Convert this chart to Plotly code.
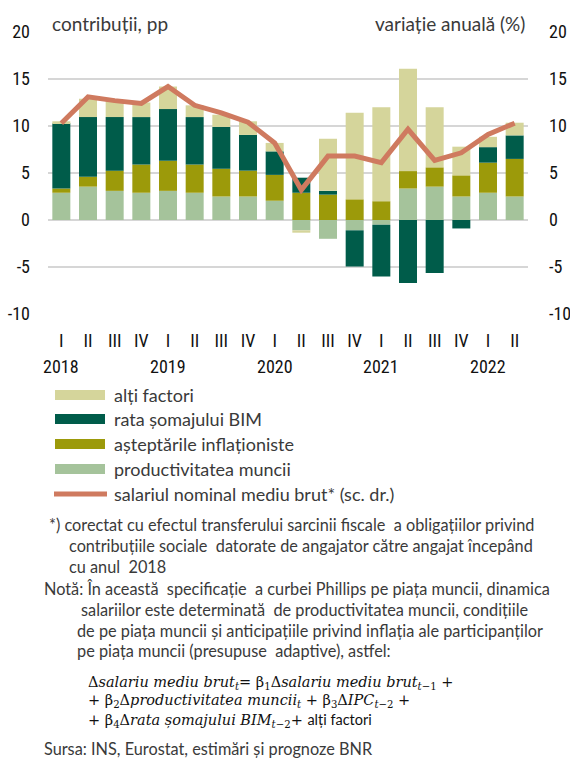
import plotly.graph_objects as go

# ---------------- data ----------------
quarters = ["I", "II", "III", "IV", "I", "II", "III", "IV", "I", "II", "III", "IV",
            "I", "II", "III", "IV", "I", "II"]
years = ["2018", "2019", "2020", "2021", "2022"]
year_first_idx = [0, 4, 8, 12, 16]

productivitatea = [2.9, 3.55, 3.1, 2.9, 3.1, 2.9, 2.5, 2.5, 2.05, -1.1, -2.0, -1.1,
                   -0.5, 3.35, 3.55, 2.5, 2.9, 2.5]
asteptarile = [0.45, 1.05, 2.15, 3.0, 3.2, 3.0, 2.95, 2.75, 2.75, 2.9, 2.7, 2.2,
               2.0, 1.85, 2.05, 2.25, 3.2, 4.0]
somaj = [6.95, 6.35, 5.7, 5.05, 5.5, 5.05, 4.45, 3.8, 2.5, 1.6, 0.4, -3.85,
         -5.5, -6.7, -5.65, -0.9, 1.65, 2.5]
alti = [0.2, 1.95, 1.7, 1.55, 2.4, 1.25, 1.3, 1.45, 0.9, -0.25, 5.55, 9.2,
        10.0, 10.9, 6.4, 3.05, 1.1, 1.35]
salariul = [10.3, 13.1, 12.7, 12.4, 14.2, 12.2, 11.4, 10.4, 8.2, 3.2, 6.8, 6.8,
            6.1, 9.65, 6.35, 7.15, 9.1, 10.3]

names = ["alți factori", "rata șomajului BIM", "așteptările inflaționiste",
         "productivitatea muncii", "salariul nominal mediu brut* (sc. dr.)"]
col_alti = "#d5d59b"
col_somaj = "#005c4a"
col_infl = "#9c9a0a"
col_prod = "#a5c39b"
col_line = "#cf7a5f"

x = list(range(len(quarters)))

# ---------------- geometry (pixels) ----------------
W, H = 570, 760
PL, PR, PT, PB = 48, 528, 32, 314


def px(v):
    return (v - PL) / (PR - PL)


def py(v):
    return (PB - v) / (PB - PT)


SANS = "Lato, 'Open Sans', sans-serif"
NARROW = "'Roboto Condensed', 'Liberation Sans Narrow', Lato, sans-serif"
SERIF = "'DejaVu Serif', 'Liberation Serif', serif"
TXT = "#3a3a3a"
TICK = "#111111"

fig = go.Figure()
for vals, name, col in [(productivitatea, names[3], col_prod),
                        (asteptarile, names[2], col_infl),
                        (somaj, names[1], col_somaj),
                        (alti, names[0], col_alti)]:
    fig.add_trace(go.Bar(x=x, y=vals, name=name, marker=dict(color=col, line=dict(width=0)),
                         showlegend=False))

fig.add_trace(go.Scatter(x=x, y=salariul, name=names[4], yaxis="y2", mode="lines",
                         line=dict(color=col_line, width=5), showlegend=False))

yt = [-10, -5, 0, 5, 10, 15, 20]
fig.update_layout(
    width=W, height=H,
    margin=dict(l=PL, r=W - PR, t=PT, b=H - PB, pad=0, autoexpand=False),
    paper_bgcolor="white", plot_bgcolor="white",
    barmode="relative", bargap=0.325,
    font=dict(family=SANS, color=TXT),
    xaxis=dict(range=[-0.5, len(x) - 0.5], tickmode="array", tickvals=x, ticktext=quarters,
               showgrid=False, zeroline=False, showline=False, ticks="", automargin=False,
               tickfont=dict(family=NARROW, size=18, color=TICK),
               ticklabelstandoff=14),
    yaxis=dict(range=[-10, 20], tickmode="array", tickvals=yt, ticktext=[str(v) for v in yt],
               showgrid=True, gridcolor="#d6d6d6", gridwidth=1.5,
               zeroline=True, zerolinecolor="#d6d6d6", zerolinewidth=1.5,
               showline=False, ticks="", automargin=False,
               tickfont=dict(family=NARROW, size=18, color=TICK),
               ticklabelstandoff=17),
    yaxis2=dict(range=[-10, 20], tickmode="array", tickvals=yt, ticktext=[str(v) for v in yt],
                overlaying="y", side="right", showgrid=False, zeroline=False,
                showline=False, ticks="", automargin=False,
                tickfont=dict(family=NARROW, size=18, color=TICK),
                ticklabelstandoff=20),
)

ann = []
for yr, i in zip(years, year_first_idx):
    ann.append(dict(x=i, y=py(366), xref="x", yref="paper", text=yr, showarrow=False,
                    xanchor="center", yanchor="middle",
                    font=dict(family=NARROW, size=18, color=TICK)))

ann.append(dict(x=px(50), y=py(23), xref="paper", yref="paper", text="contribuții, pp",
                showarrow=False, xanchor="left", yanchor="middle",
                font=dict(family=SANS, size=19, color=TXT)))
ann.append(dict(x=px(527), y=py(23), xref="paper", yref="paper", text="variație anuală (%)",
                showarrow=False, xanchor="right", yanchor="middle",
                font=dict(family=SANS, size=19, color=TXT)))

shapes = []
leg_rows = [(395, names[0], col_alti), (419, names[1], col_somaj),
            (444, names[2], col_infl), (469, names[3], col_prod)]
for yy, name, col in leg_rows:
    shapes.append(dict(type="rect", xref="paper", yref="paper",
                       x0=px(55), x1=px(105), y0=py(yy + 5), y1=py(yy - 5),
                       fillcolor=col, line=dict(width=0)))
    ann.append(dict(x=px(112), y=py(yy), xref="paper", yref="paper", text=name,
                    showarrow=False, xanchor="left", yanchor="middle",
                    font=dict(family=SANS, size=18, color=TXT)))
shapes.append(dict(type="line", xref="paper", yref="paper",
                   x0=px(54), x1=px(107), y0=py(494), y1=py(494),
                   line=dict(color=col_line, width=5)))
ann.append(dict(x=px(112), y=py(494), xref="paper", yref="paper", text=names[4],
                showarrow=False, xanchor="left", yanchor="middle",
                font=dict(family=SANS, size=18, color=TXT)))

notes = [
    (47, 524, "*) corectat cu efectul transferului sarcinii fiscale  a obligațiilor privind"),
    (67, 545, "contribuțiile sociale  datorate de angajator către angajat începând"),
    (67, 566, "cu anul  2018"),
    (42, 588, "Notă: În această  specificație  a curbei Phillips pe piața muncii, dinamica"),
    (79, 609, "salariilor este determinată  de productivitatea muncii, condițiile"),
    (75, 630, "de pe piața muncii și anticipațiile privind inflația ale participanților"),
    (75, 650, "pe piața muncii (presupuse  adaptive), astfel:"),
    (42, 748, "Sursa: INS, Eurostat, estimări și prognoze BNR"),
]
for xx, yy, t in notes:
    ann.append(dict(x=px(xx), y=py(yy), xref="paper", yref="paper", text=t,
                    showarrow=False, xanchor="left", yanchor="middle",
                    font=dict(family=SANS, size=16.3, color=TXT)))

formula = [
    (683, "Δ<i>salariu mediu brut</i><sub><i>t</i></sub>= β<sub>1</sub>Δ<i>salariu mediu brut</i><sub><i>t</i>−1</sub> +"),
    (701, "+ β<sub>2</sub>Δ<i>productivitatea muncii</i><sub><i>t</i></sub> + β<sub>3</sub>Δ<i>IPC</i><sub><i>t</i>−2</sub> +"),
    (720, "+ β<sub>4</sub>Δ<i>rata șomajului BIM</i><sub><i>t</i>−2</sub>+ <span style='font-family:Lato'>alți factori</span>"),
]
for yy, t in formula:
    ann.append(dict(x=px(86), y=py(yy), xref="paper", yref="paper", text=t,
                    showarrow=False, xanchor="left", yanchor="middle",
                    font=dict(family=SERIF, size=14.5, color=TICK)))

fig.update_layout(annotations=ann, shapes=shapes)
fig.write_html("out.html", config={"displayModeBar": False},
               post_script="document.body.style.margin='0px';")
